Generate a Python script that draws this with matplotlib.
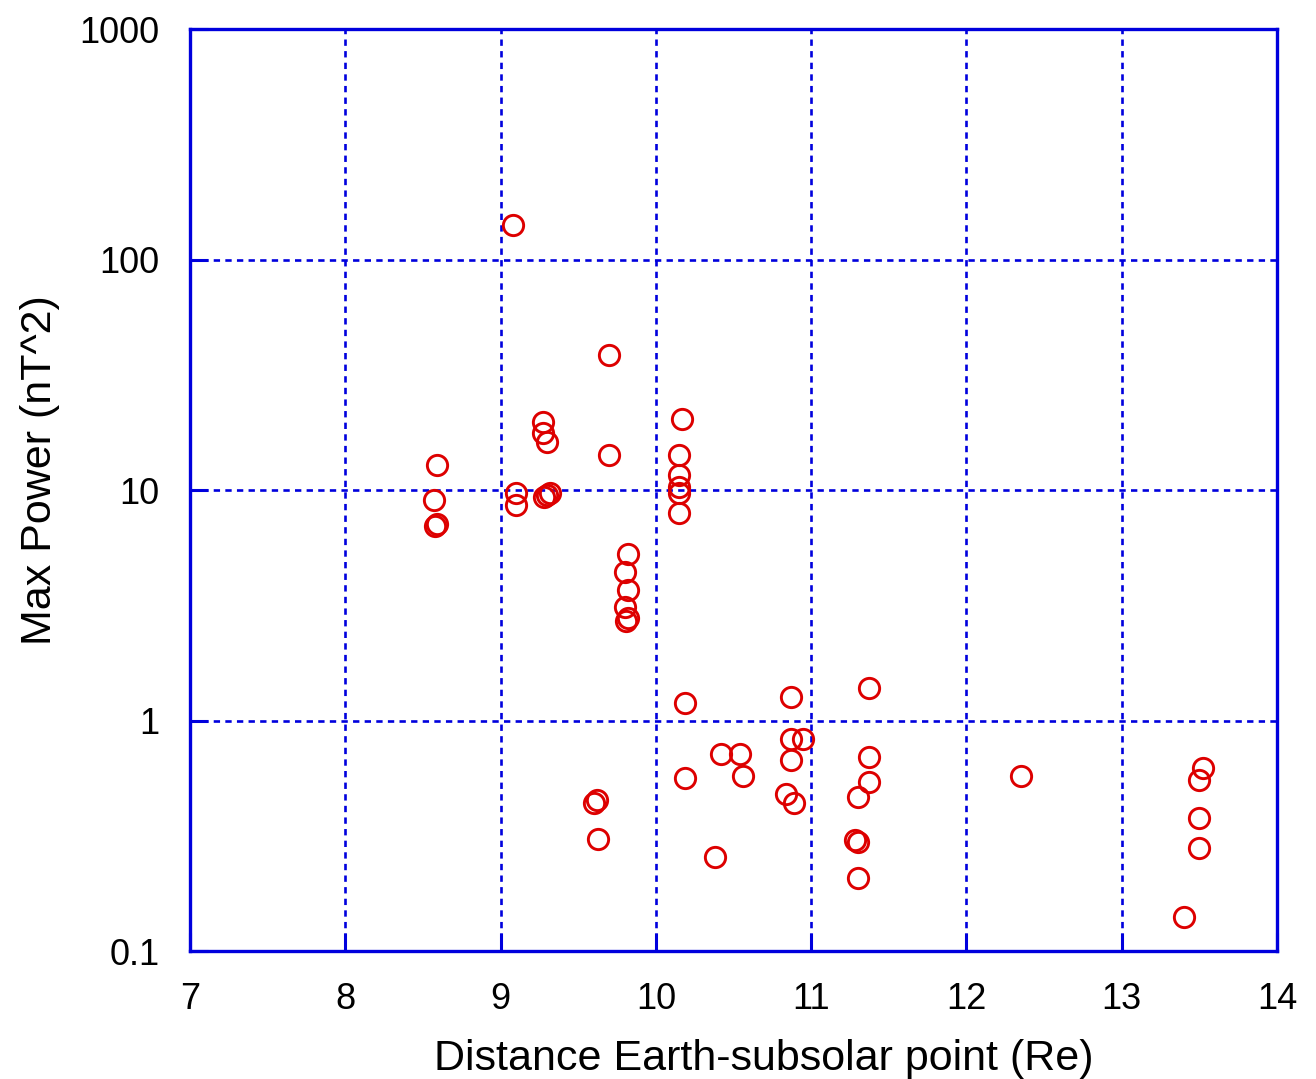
import matplotlib
matplotlib.use("Agg")
import matplotlib.pyplot as plt
from matplotlib.ticker import FixedLocator, FixedFormatter, NullLocator

# Distance of Earth to the subsolar magnetopause point (Re) and max wave power (nT^2)
distance = [
    8.59, 8.57, 8.58, 8.59,
    9.08, 9.10, 9.10,
    9.27, 9.27, 9.30,
    9.28, 9.30, 9.32,
    9.70, 9.70,
    9.82, 9.80, 9.82, 9.80, 9.81, 9.82,
    10.17, 10.15, 10.15, 10.15, 10.15, 10.15,
    10.19, 10.19,
    9.60, 9.62, 9.63,
    10.38, 10.42, 10.54, 10.56,
    10.87, 10.87, 10.95, 10.87, 10.84, 10.89,
    11.37, 11.37, 11.37, 11.30, 11.28, 11.30, 11.30,
    12.35,
    13.52, 13.50, 13.50, 13.50, 13.40,
]
max_power = [
    12.9, 9.05, 7.0, 7.1,
    141.0, 9.7, 8.6,
    19.8, 17.6, 16.2,
    9.3, 9.5, 9.7,
    38.5, 14.2,
    5.28, 4.42, 3.68, 3.12, 2.70, 2.78,
    20.3, 14.2, 11.6, 10.3, 9.7, 7.97,
    1.19, 0.561,
    0.44, 0.45, 0.305,
    0.255, 0.716, 0.716, 0.574,
    1.27, 0.83, 0.83, 0.675, 0.48, 0.437,
    1.38, 0.692, 0.543, 0.467, 0.303, 0.296, 0.207,
    0.574,
    0.62, 0.55, 0.376, 0.279, 0.14,
]

x_ticks = [7, 8, 9, 10, 11, 12, 13, 14]
y_ticks = [0.1, 1, 10, 100, 1000]
y_tick_labels = ["0.1", "1", "10", "100", "1000"]

plt.rcParams["font.family"] = ["Liberation Sans", "DejaVu Sans"]

blue = "#0000DD"
red = "#DD0000"

fig = plt.figure(figsize=(13.16, 10.79), dpi=100)
ax = fig.add_axes([0.1444, 0.1186, 0.826, 0.8545])

ax.plot(distance, max_power, linestyle="none", marker="o", markersize=14.6,
        markerfacecolor="none", markeredgecolor=red, markeredgewidth=2.1,
        clip_on=False, zorder=3)

ax.set_yscale("log")
ax.set_xlim(7, 14)
ax.set_ylim(0.1, 1000)

ax.xaxis.set_major_locator(FixedLocator(x_ticks))
ax.yaxis.set_major_locator(FixedLocator(y_ticks))
ax.yaxis.set_major_formatter(FixedFormatter(y_tick_labels))
ax.yaxis.set_minor_locator(NullLocator())

ax.grid(True, color=blue, linestyle=(0, (2.4, 2.0)), linewidth=1.9, zorder=1)
for spine in ax.spines.values():
    spine.set_color(blue)
    spine.set_linewidth(2.4)

ax.tick_params(axis="both", which="major", direction="in", length=13,
               width=2.2, color=blue, labelsize=26, pad=22, labelcolor="black")

ax.set_xlabel("Distance Earth-subsolar point (Re)", fontsize=31, va="center")
ax.set_ylabel("Max Power (nT^2)", fontsize=31, va="center", ha="center")
ax.xaxis.set_label_coords(0.528, -0.117)
ax.yaxis.set_label_coords(-0.138, 0.522)

fig.savefig("out.png", dpi=100, facecolor="white")
